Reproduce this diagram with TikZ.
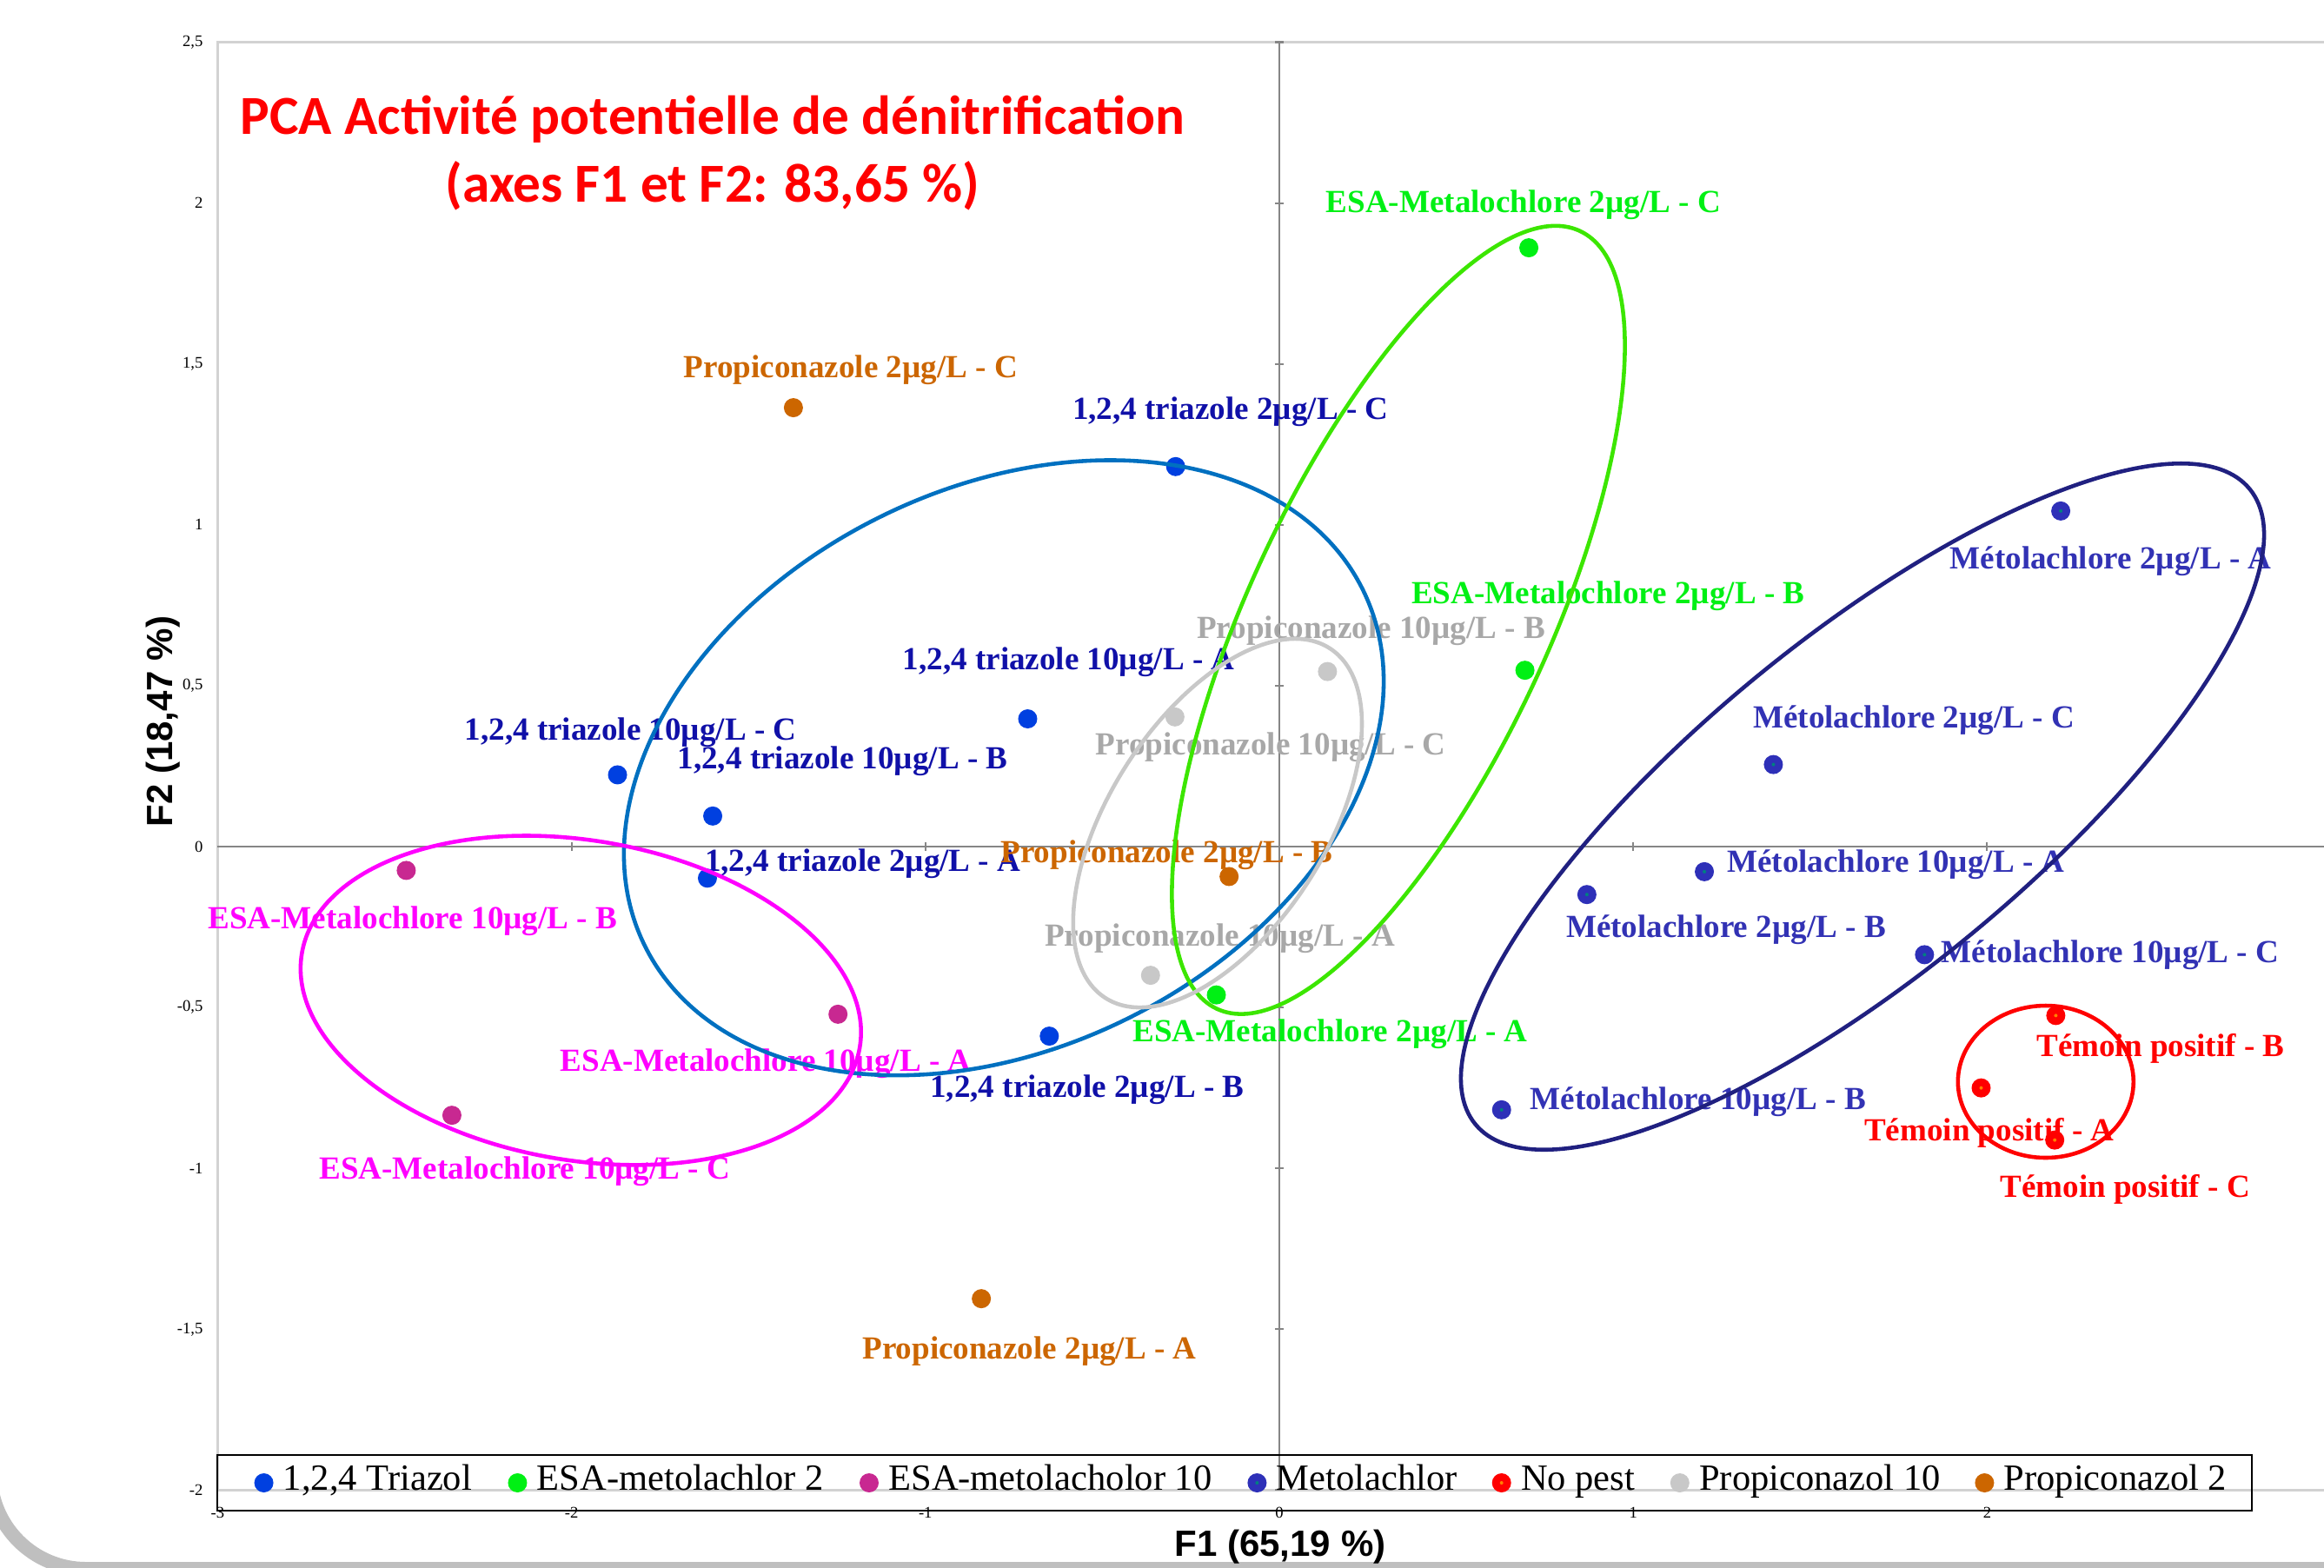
\documentclass[tikz,border=0pt]{standalone}
\usepackage{fontspec}
\setmainfont{Liberation Serif}
\newfontfamily\titlefont{Carlito}
\newfontfamily\axisfont{Liberation Sans}
\usetikzlibrary{positioning}

\definecolor{triazpt}{RGB}{0,64,224}
\definecolor{triaztxt}{RGB}{16,16,168}
\definecolor{triazell}{RGB}{0,112,192}
\definecolor{esatwo}{RGB}{0,240,20}
\definecolor{esatwoell}{RGB}{60,230,0}
\definecolor{esatenpt}{RGB}{200,40,145}
\definecolor{esaten}{RGB}{255,0,255}
\definecolor{metpt}{RGB}{46,48,184}
\definecolor{mettxt}{RGB}{50,50,180}
\definecolor{metell}{RGB}{32,32,128}
\definecolor{propten}{RGB}{200,200,200}
\definecolor{proptentxt}{RGB}{168,168,168}
\definecolor{proptwo}{RGB}{204,102,0}
\definecolor{axisgray}{RGB}{134,134,134}
\definecolor{framegray}{RGB}{210,210,210}

\tikzset{
  pnt/.style={circle, inner sep=0pt, minimum size=0.22cm, fill=#1},
  metpnt/.style={pnt=metpt, path picture={\fill[teal] (path picture bounding box.center) circle (0.02cm);}},
  nopnt/.style={pnt=red, path picture={\fill[orange] (path picture bounding box.center) circle (0.02cm);}},
  lbl/.style={font=\bfseries\fontsize{10.55}{12}\selectfont, inner sep=0pt, text=#1, yshift=-0.05cm},
  ell/.style={draw=#1, line width=1.3pt},
  ticklbl/.style={font=\fontsize{5.3}{6}\selectfont, inner sep=0pt},
  legtxt/.style={font=\fontsize{12.1}{14}\selectfont, inner sep=0pt, text height=0.7em, text depth=0.2em},
  ttl/.style={font=\titlefont\bfseries\fontsize{18}{22}\selectfont, text=red, inner sep=0pt},
  axlbl/.style={font=\axisfont\bfseries\fontsize{11.95}{14}\selectfont, inner sep=0pt},
  axline/.style={axisgray, line width=0.6pt}
}

\begin{document}
\begin{tikzpicture}
  \useasboundingbox (-14.72,-8.29) rectangle (12.02,9.74);

  % slide frame corner
  \draw[gray!50, line width=0.16cm, rounded corners=1.1cm] (-14.83,-5) |- (12.3,-8.31);

  % plot area and axes
  \draw[framegray, line width=0.8pt] (12.1,9.255) -| (-12.216,-7.404) -- (12.1,-7.404);
  \draw[axline] (0,9.255) -- (0,-7.404);
  \draw[axline] (-12.216,0) -- (12.1,0);

  \begin{scope}[x=4.072cm, y=3.702cm]
    \draw[axline] (-0.012,2.5) -- (0.012,2.5) (-0.012,2) -- (0.012,2)
      (-0.012,1.5) -- (0.012,1.5) (-0.012,1) -- (0.012,1)
      (-0.012,0.5) -- (0.012,0.5) (-0.012,-0.5) -- (0.012,-0.5)
      (-0.012,-1) -- (0.012,-1) (-0.012,-1.5) -- (0.012,-1.5)
      (-0.012,-2) -- (0.012,-2);
    \draw[axline] (-2,-0.0135) -- (-2,0.0135) (-1,-0.0135) -- (-1,0.0135)
      (1,-0.0135) -- (1,0.0135) (2,-0.0135) -- (2,0.0135);

    \node[ticklbl, anchor=east] (y25) at (-3.04,2.5) {2,5};
    \node[ticklbl, anchor=east] (y20) at (-3.04,2) {2};
    \node[ticklbl, anchor=east] (y15) at (-3.04,1.5) {1,5};
    \node[ticklbl, anchor=east] (y10) at (-3.04,1) {1};
    \node[ticklbl, anchor=east] (y05) at (-3.04,0.5) {0,5};
    \node[ticklbl, anchor=east] (y00) at (-3.04,0) {0};
    \node[ticklbl, anchor=east] (ym05) at (-3.04,-0.5) {-0,5};
    \node[ticklbl, anchor=east] (ym10) at (-3.04,-1) {-1};
    \node[ticklbl, anchor=east] (ym15) at (-3.04,-1.5) {-1,5};
    \node[ticklbl, anchor=east] (ym20) at (-3.04,-2) {-2};
    \node[ticklbl] (xm3) at (-3,-2.069) {-3};
    \node[ticklbl] (xm2) at (-2,-2.069) {-2};
    \node[ticklbl] (xm1) at (-1,-2.069) {-1};
    \node[ticklbl] (x0) at (0,-2.069) {0};
    \node[ticklbl] (x1) at (1,-2.069) {1};
    \node[ticklbl] (x2) at (2,-2.069) {2};

    % labels
    \node[lbl=proptwo] (p2cl) at (-1.211,1.494) {Propiconazole 2µg/L - C};
    \node[lbl=triaztxt] (t2cl) at (-0.138,1.364) {1,2,4 triazole 2µg/L - C};
    \node[lbl=esatwo] (e2cl) at (0.690,2.009) {ESA-Metalochlore 2µg/L - C};
    \node[lbl=mettxt] (m2al) at (2.349,0.901) {Métolachlore 2µg/L - A};
    \node[lbl=esatwo] (e2bl) at (0.929,0.792) {ESA-Metalochlore 2µg/L - B};
    \node[lbl=proptentxt] (p10bl) at (0.259,0.684) {Propiconazole 10µg/L - B};
    \node[lbl=triaztxt] (t10al) at (-0.595,0.586) {1,2,4 triazole 10µg/L - A};
    \node[lbl=proptentxt] (p10cl) at (-0.024,0.322) {Propiconazole 10µg/L - C};
    \node[lbl=mettxt] (m2cl) at (1.793,0.407) {Métolachlore 2µg/L - C};
    \node[lbl=triaztxt] (t10cl) at (-1.833,0.367) {1,2,4 triazole 10µg/L - C};
    \node[lbl=triaztxt] (t10bl) at (-1.234,0.280) {1,2,4 triazole 10µg/L - B};
    \node[lbl=esaten] (e10bl) at (-2.449,-0.219) {ESA-Metalochlore 10µg/L - B};
    \node[lbl=triaztxt] (t2al) at (-1.177,-0.039) {1,2,4 triazole 2µg/L - A};
    \node[lbl=proptwo] (p2bl) at (-0.318,-0.014) {Propiconazole 2µg/L - B};
    \node[lbl=mettxt] (m10al) at (1.742,-0.042) {Métolachlore 10µg/L - A};
    \node[lbl=mettxt] (m2bl) at (1.262,-0.244) {Métolachlore 2µg/L - B};
    \node[lbl=mettxt] (m10cl) at (2.348,-0.322) {Métolachlore 10µg/L - C};
    \node[lbl=proptentxt] (p10al) at (-0.168,-0.272) {Propiconazole 10µg/L - A};
    \node[lbl=esatwo] (e2al) at (0.144,-0.570) {ESA-Metalochlore 2µg/L - A};
    \node[lbl=esaten] (e10al) at (-1.451,-0.662) {ESA-Metalochlore 10µg/L - A};
    \node[lbl=triaztxt] (t2bl) at (-0.543,-0.741) {1,2,4 triazole 2µg/L - B};
    \node[lbl=red] (tmbl) at (2.490,-0.615) {Témoin positif - B};
    \node[lbl=red] (tmal) at (2.006,-0.876) {Témoin positif - A};
    \node[lbl=red] (tmcl) at (2.390,-1.052) {Témoin positif - C};
    \node[lbl=mettxt] (m10bl) at (1.183,-0.781) {Métolachlore 10µg/L - B};
    \node[lbl=esaten] (e10cl) at (-2.132,-0.996) {ESA-Metalochlore 10µg/L - C};
    \node[lbl=proptwo] (p2al) at (-0.706,-1.556) {Propiconazole 2µg/L - A};

    % points
    \node[pnt=proptwo] (p2c) at (-1.373,1.364) {};
    \node[pnt=triazpt] (t2c) at (-0.293,1.181) {};
    \node[pnt=esatwo] (e2c) at (0.705,1.861) {};
    \node[metpnt] (m2a) at (2.208,1.043) {};
    \node[pnt=esatwo] (e2b) at (0.694,0.548) {};
    \node[pnt=propten] (p10b) at (0.136,0.544) {};
    \node[pnt=triazpt] (t10a) at (-0.711,0.397) {};
    \node[pnt=propten] (p10c) at (-0.295,0.403) {};
    \node[metpnt] (m2c) at (1.396,0.255) {};
    \node[pnt=triazpt] (t10c) at (-1.870,0.223) {};
    \node[pnt=triazpt] (t10b) at (-1.601,0.095) {};
    \node[pnt=esatenpt] (e10b) at (-2.467,-0.074) {};
    \node[pnt=triazpt] (t2a) at (-1.616,-0.098) {};
    \node[pnt=proptwo] (p2b) at (-0.142,-0.093) {};
    \node[metpnt] (m10a) at (1.201,-0.078) {};
    \node[metpnt] (m2b) at (0.869,-0.149) {};
    \node[metpnt] (m10c) at (1.823,-0.336) {};
    \node[pnt=propten] (p10a) at (-0.364,-0.400) {};
    \node[pnt=esatwo] (e2a) at (-0.178,-0.461) {};
    \node[pnt=esatenpt] (e10a) at (-1.247,-0.521) {};
    \node[pnt=triazpt] (t2b) at (-0.650,-0.589) {};
    \node[nopnt] (tmb) at (2.194,-0.525) {};
    \node[nopnt] (tma) at (1.983,-0.750) {};
    \node[nopnt] (tmc) at (2.191,-0.912) {};
    \node[metpnt] (m10b) at (0.628,-0.818) {};
    \node[pnt=esatenpt] (e10c) at (-2.338,-0.835) {};
    \node[pnt=proptwo] (p2a) at (-0.842,-1.405) {};
  \end{scope}

  % group ellipses
  \draw[ell=triazell, rotate around={26.45:(-3.17,0.907)}] (-3.17,0.907) ellipse (4.611 and 3.218);
  \draw[ell=esatwoell, rotate around={64.98:(1.37,2.608)}] (1.37,2.608) ellipse (4.938 and 1.72);
  \draw[ell=esaten, rotate around={-9.6:(-8.037,-1.769)}] (-8.037,-1.769) ellipse (3.255 and 1.84);
  \draw[ell=propten, rotate around={57.3:(-0.711,0.27)}] (-0.711,0.27) ellipse (2.39 and 1.242);
  \draw[ell=metell, rotate around={39.36:(6.71,0.46)}] (6.71,0.46) ellipse (5.762 and 1.928);
  \draw[ell=red] (8.818,-2.705) ellipse (1.01 and 0.875);

  % legend
  \node[draw, line width=0.8pt, minimum width=23.41cm, minimum height=0.64cm, inner sep=0pt] (legend) at (-0.515,-7.32) {};
  \node[pnt=triazpt] (lg1) at (-11.684,-7.32) {};
  \node[legtxt, right=0.1cm of lg1] (lt1) {1,2,4 Triazol};
  \node[pnt=esatwo] (lg2) at (-8.765,-7.32) {};
  \node[legtxt, right=0.1cm of lg2] (lt2) {ESA-metolachlor 2};
  \node[pnt=esatenpt] (lg3) at (-4.72,-7.32) {};
  \node[legtxt, right=0.1cm of lg3] (lt3) {ESA-metolacholor 10};
  \node[metpnt] (lg4) at (-0.256,-7.32) {};
  \node[legtxt, right=0.1cm of lg4] (lt4) {Metolachlor};
  \node[nopnt] (lg5) at (2.557,-7.32) {};
  \node[legtxt, right=0.1cm of lg5] (lt5) {No pest};
  \node[pnt=propten] (lg6) at (4.608,-7.32) {};
  \node[legtxt, right=0.1cm of lg6] (lt6) {Propiconazol 10};
  \node[pnt=proptwo] (lg7) at (8.114,-7.32) {};
  \node[legtxt, right=0.1cm of lg7] (lt7) {Propiconazol 2};

  % titles
  \node[ttl, anchor=base] (title1) at (-6.52,8.20) {PCA Activité potentielle de dénitrification};
  \node[ttl, anchor=base] (title2) at (-6.52,7.42) {(axes F1 et F2: 83,65 \%)};
  \node[axlbl] (f1lbl) at (0.01,-8.06) {F1 (65,19 \%)};
  \node[axlbl, rotate=90] (f2lbl) at (-12.84,1.44) {F2 (18,47 \%)};
\end{tikzpicture}
\end{document}
